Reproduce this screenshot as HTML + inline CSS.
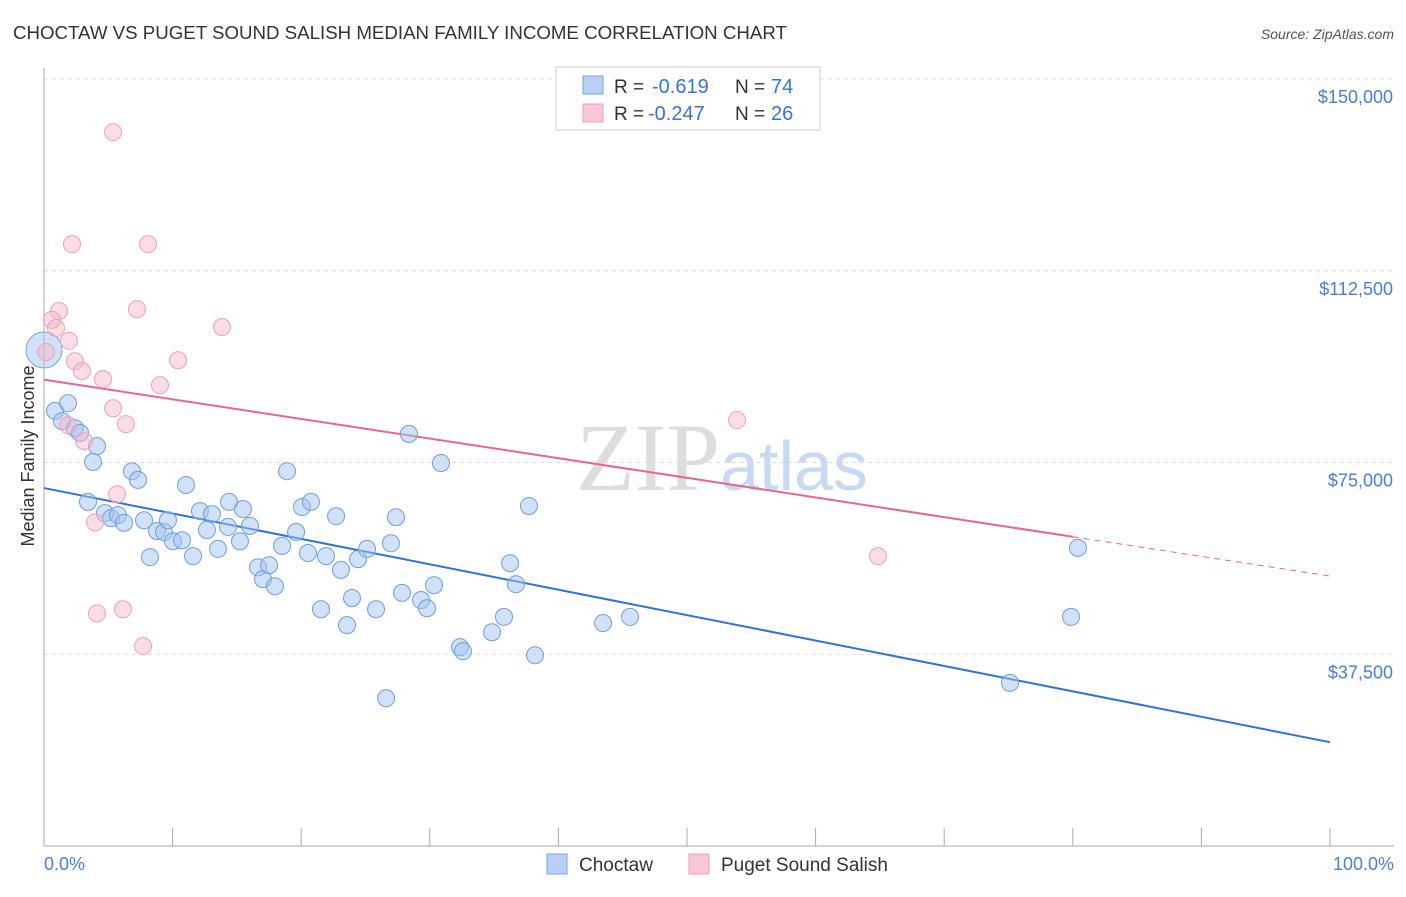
<!DOCTYPE html>
<html><head><meta charset="utf-8"><style>
body{margin:0;background:#fff;font-family:"Liberation Sans",sans-serif}
svg text{font-family:"Liberation Sans",sans-serif}
</style></head><body>
<svg id="chart" width="1406" height="892" xmlns="http://www.w3.org/2000/svg">
<text x="13" y="39" font-size="18.7" fill="#333">CHOCTAW VS PUGET SOUND SALISH MEDIAN FAMILY INCOME CORRELATION CHART</text>
<text x="1394" y="39" font-size="14" fill="#555" font-style="italic" text-anchor="end">Source: ZipAtlas.com</text>
<text x="722" y="490" font-size="96" text-anchor="middle"><tspan fill="#ddd" font-family="Liberation Serif">ZIP</tspan><tspan fill="#c8daf3" font-size="70">atlas</tspan></text>
<g id="grid"></g><g id="axes"></g><g id="lines"></g><g id="pts"></g>
<text transform="translate(34,456) rotate(-90)" font-size="18" fill="#333" text-anchor="middle">Median Family Income</text>
<text x="44" y="870" font-size="18" fill="#4a7fd8">0.0%</text>
<text x="1394" y="870" font-size="18" fill="#4a7fd8" text-anchor="end">100.0%</text>
<g>
<rect x="556" y="67" width="264" height="63" fill="#fff" stroke="#ccc"/>
<rect x="583" y="76" width="20" height="18" fill="#b7d0f3" stroke="#7aa5e3"/>
<rect x="583" y="104" width="20" height="18" fill="#f9c7d5" stroke="#f0a0b8"/>
<text x="614" y="93" font-size="19" fill="#333">R =</text>
<text x="652" y="93" font-size="20" fill="#3a73d6">-0.619</text>
<text x="735" y="93" font-size="19" fill="#333">N =</text>
<text x="771" y="93" font-size="20" fill="#3a73d6">74</text>
<text x="614" y="120" font-size="19" fill="#333">R =</text>
<text x="648" y="120" font-size="20" fill="#3a73d6">-0.247</text>
<text x="735" y="120" font-size="19" fill="#333">N =</text>
<text x="771" y="120" font-size="20" fill="#3a73d6">26</text>
</g>
<g>
<rect x="547" y="854" width="20" height="20" fill="#b7d0f3" stroke="#7aa5e3"/>
<text x="579" y="871" font-size="19" fill="#333">Choctaw</text>
<rect x="689" y="854" width="20" height="20" fill="#f9c7d5" stroke="#f0a0b8"/>
<text x="721" y="871" font-size="19" fill="#333">Puget Sound Salish</text>
</g>
</svg>
<script>
const yTicks=[37500,75000,112500,150000];
const yTickLabels=["$37,500","$75,000","$112,500","$150,000"];
const xTicks=[0,10,20,30,40,50,60,70,80,90,100];
const blueX=[0.86,1.87,1.40,2.41,2.80,4.12,3.81,3.42,4.74,5.21,5.75,6.22,6.84,7.31,7.78,8.24,8.79,9.33,9.64,10.03,10.73,11.04,11.59,12.13,12.67,13.06,13.53,14.39,14.31,15.24,15.47,16.02,16.64,17.03,17.50,17.96,18.51,18.90,19.60,20.06,20.76,20.53,21.54,21.93,22.71,23.09,23.56,23.95,24.42,25.12,25.82,26.60,26.98,27.37,27.84,28.38,29.32,29.78,30.33,30.87,32.35,32.58,34.84,35.77,36.24,36.70,37.71,38.18,43.47,45.57,75.12,79.86,80.40];
const blueY=[85.1,86.6,83.1,81.7,80.8,78.2,75.1,67.3,65.1,64.1,64.7,63.2,73.3,71.6,63.7,56.5,61.6,61.4,63.7,59.6,59.8,70.6,56.7,65.5,61.8,64.9,58.1,67.3,62.4,59.6,65.9,62.6,54.5,52.2,54.9,50.8,58.7,73.3,61.4,66.3,67.3,57.3,46.3,56.7,64.5,54.0,43.2,48.5,56.1,58.1,46.3,28.9,59.2,64.3,49.5,80.6,48.1,46.5,51.0,74.9,38.9,38.1,41.8,44.8,55.3,51.2,66.5,37.3,43.6,44.8,31.9,44.8,58.3];
const pinkX=[5.37,2.18,8.09,1.17,0.62,0.93,1.94,7.23,13.84,10.42,2.41,2.95,4.59,9.02,5.37,6.38,1.87,3.11,5.68,3.97,4.12,6.14,7.70,53.89,64.85,0.16];
const pinkY=[139.6,117.7,117.7,104.6,102.9,101.3,98.8,105.0,101.5,95.0,94.8,92.9,91.3,90.1,85.6,82.5,82.3,79.2,68.8,63.3,45.5,46.3,39.1,83.3,56.7,96.6];
const blueLine=[70.0,20.3];
const pinkLine=[91.2,52.8];
const pinkSolidEnd=80;
const NS="http://www.w3.org/2000/svg";
const X=p=>44+p*12.86, Y=v=>846-v/37500*191.75;
function mk(t,a,parent){const e=document.createElementNS(NS,t);for(const k in a)e.setAttribute(k,a[k]);parent.appendChild(e);return e;}
const grid=document.getElementById('grid'),axes=document.getElementById('axes'),lines=document.getElementById('lines'),pts=document.getElementById('pts');
yTicks.forEach((v,i)=>{
 const l=mk('line',{x1:44,x2:1394,y1:Y(v),y2:Y(v),stroke:'#ddd','stroke-dasharray':'4,4'},grid);
 
 
 const t=mk('text',{x:1393,y:Y(v)+24,'font-size':18,fill:'#4a7fd8','text-anchor':'end'},grid);
 
 
 t.textContent=yTickLabels[i];
});
const ya=mk('line',{x1:44,x2:44,y1:68,y2:846,stroke:'#aaa'},axes);


const xa=mk('line',{x1:44,x2:1394,y1:846,y2:846,stroke:'#aaa'},axes);


xTicks.forEach(p=>{const t=mk('line',{x1:X(p),x2:X(p),y1:828,y2:846,stroke:'#aaa'},axes);
 
 });
const ly=(L,p)=>L[0]+(L[1]-L[0])*p/100;
const bl=mk('line',{x1:X(0),y1:Y(ly(blueLine,0)*1000),x2:X(100),y2:Y(ly(blueLine,100)*1000),stroke:'#2f72d9','stroke-width':2},lines);


const pl=mk('line',{x1:X(0),y1:Y(ly(pinkLine,0)*1000),x2:X(pinkSolidEnd),y2:Y(ly(pinkLine,pinkSolidEnd)*1000),stroke:'#e8668f','stroke-width':2},lines);


const pd=mk('line',{x1:X(pinkSolidEnd),y1:Y(ly(pinkLine,pinkSolidEnd)*1000),x2:X(100),y2:Y(ly(pinkLine,100)*1000),stroke:'#e8668f','stroke-width':1,'stroke-dasharray':'6,5'},lines);


const big=mk('circle',{cx:X(0),cy:Y(97000),r:18,fill:'rgba(164,196,240,0.5)',stroke:'#7aa5e3'},pts);


blueX.forEach((x,i)=>{const c=mk('circle',{cx:X(x),cy:Y(blueY[i]*1000),r:8.5,fill:'rgba(164,196,240,0.5)',stroke:'#6f9fe0'},pts);
 
 });
pinkX.forEach((x,i)=>{const c=mk('circle',{cx:X(x),cy:Y(pinkY[i]*1000),r:8.5,fill:'rgba(248,180,200,0.45)',stroke:'#f0a0b8'},pts);
 
 });
</script>
</body></html>
